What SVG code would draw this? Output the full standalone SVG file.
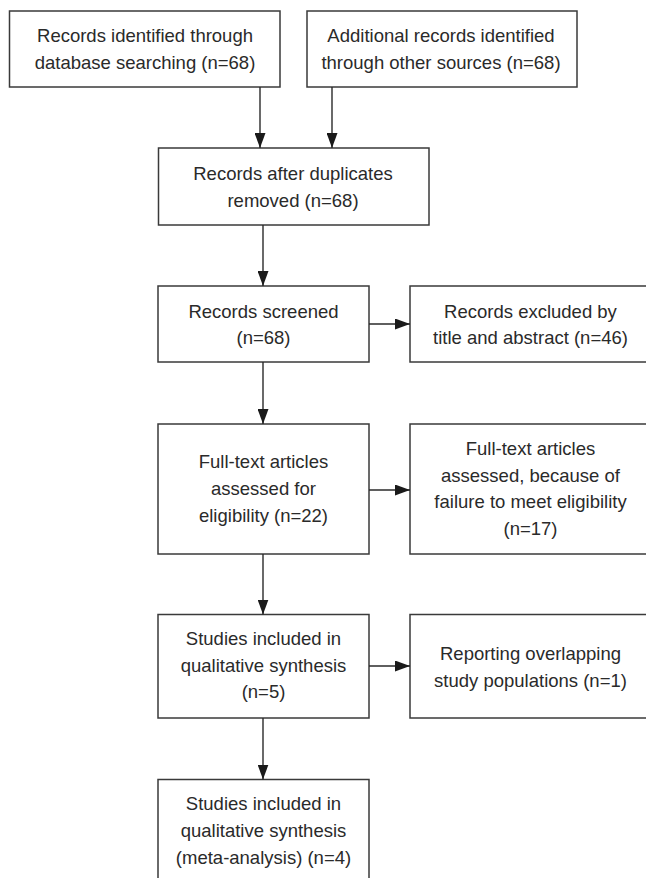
<svg xmlns="http://www.w3.org/2000/svg" width="646" height="878" viewBox="0 0 646 878">
<style>
.box{fill:#fff;stroke:#3a3a3a;stroke-width:1.5}
.t{font-family:"Liberation Sans",Arial,Helvetica,sans-serif;font-size:18.5px;fill:#2a2a2a;text-anchor:middle}
.c{stroke:#2a2a2a;stroke-width:1.4;fill:none;marker-end:url(#ah)}
</style>
<defs>
<marker id="ah" viewBox="0 0 15 11" refX="15" refY="5.5" markerWidth="15" markerHeight="11" markerUnits="userSpaceOnUse" orient="auto">
<path d="M0,0 L15,5.5 L0,11 z" fill="#1a1a1a"/>
</marker>
</defs>
<rect width="646" height="878" fill="#fff"/>
<g id="n1"><rect class="box" x="9.5" y="11" width="270.5" height="76"/>
<text class="t" x="145" y="42">Records identified through</text>
<text class="t" x="145" y="68.5">database searching (n=68)</text></g>
<g id="n2"><rect class="box" x="307" y="11" width="270" height="76"/>
<text class="t" x="441" y="42">Additional records identified</text>
<text class="t" x="441" y="68.5">through other sources (n=68)</text></g>
<g id="n3"><rect class="box" x="158.5" y="148" width="270.5" height="77"/>
<text class="t" x="293" y="180">Records after duplicates</text>
<text class="t" x="293" y="206.5">removed (n=68)</text></g>
<g id="n4"><rect class="box" x="158" y="286" width="211" height="76"/>
<text class="t" x="263.5" y="317.5">Records screened</text>
<text class="t" x="263.5" y="344">(n=68)</text></g>
<g id="n5"><rect class="box" x="410" y="286" width="242" height="76"/>
<text class="t" x="530.5" y="317.5">Records excluded by</text>
<text class="t" x="530.5" y="344">title and abstract (n=46)</text></g>
<g id="n6"><rect class="box" x="158" y="424" width="211" height="130"/>
<text class="t" x="263.5" y="468">Full-text articles</text>
<text class="t" x="263.5" y="494.8">assessed for</text>
<text class="t" x="263.5" y="521.5">eligibility (n=22)</text></g>
<g id="n7"><rect class="box" x="410" y="424" width="242" height="130"/>
<text class="t" x="530.5" y="455">Full-text articles</text>
<text class="t" x="530.5" y="481.7">assessed, because of</text>
<text class="t" x="530.5" y="508.4">failure to meet eligibility</text>
<text class="t" x="530.5" y="535">(n=17)</text></g>
<g id="n8"><rect class="box" x="158" y="614.5" width="211" height="103.5"/>
<text class="t" x="263.5" y="645">Studies included in</text>
<text class="t" x="263.5" y="671.7">qualitative synthesis</text>
<text class="t" x="263.5" y="698.3">(n=5)</text></g>
<g id="n9"><rect class="box" x="410" y="614.5" width="242" height="103.5"/>
<text class="t" x="530.5" y="660">Reporting overlapping</text>
<text class="t" x="530.5" y="686.5">study populations (n=1)</text></g>
<g id="n10"><rect class="box" x="158" y="779.5" width="211" height="102"/>
<text class="t" x="263.5" y="810">Studies included in</text>
<text class="t" x="263.5" y="837">qualitative synthesis</text>
<text class="t" x="263.5" y="864">(meta-analysis) (n=4)</text></g>
<g id="connectors">
<line class="c" x1="260" y1="87" x2="260" y2="148"/>
<line class="c" x1="332" y1="87" x2="332" y2="148"/>
<line class="c" x1="263" y1="225" x2="263" y2="286"/>
<line class="c" x1="369" y1="324" x2="410" y2="324"/>
<line class="c" x1="263" y1="362" x2="263" y2="424"/>
<line class="c" x1="369" y1="490" x2="410" y2="490"/>
<line class="c" x1="263" y1="554" x2="263" y2="614.5"/>
<line class="c" x1="369" y1="666" x2="410" y2="666"/>
<line class="c" x1="263" y1="718" x2="263" y2="779.5"/>
</g>
</svg>
